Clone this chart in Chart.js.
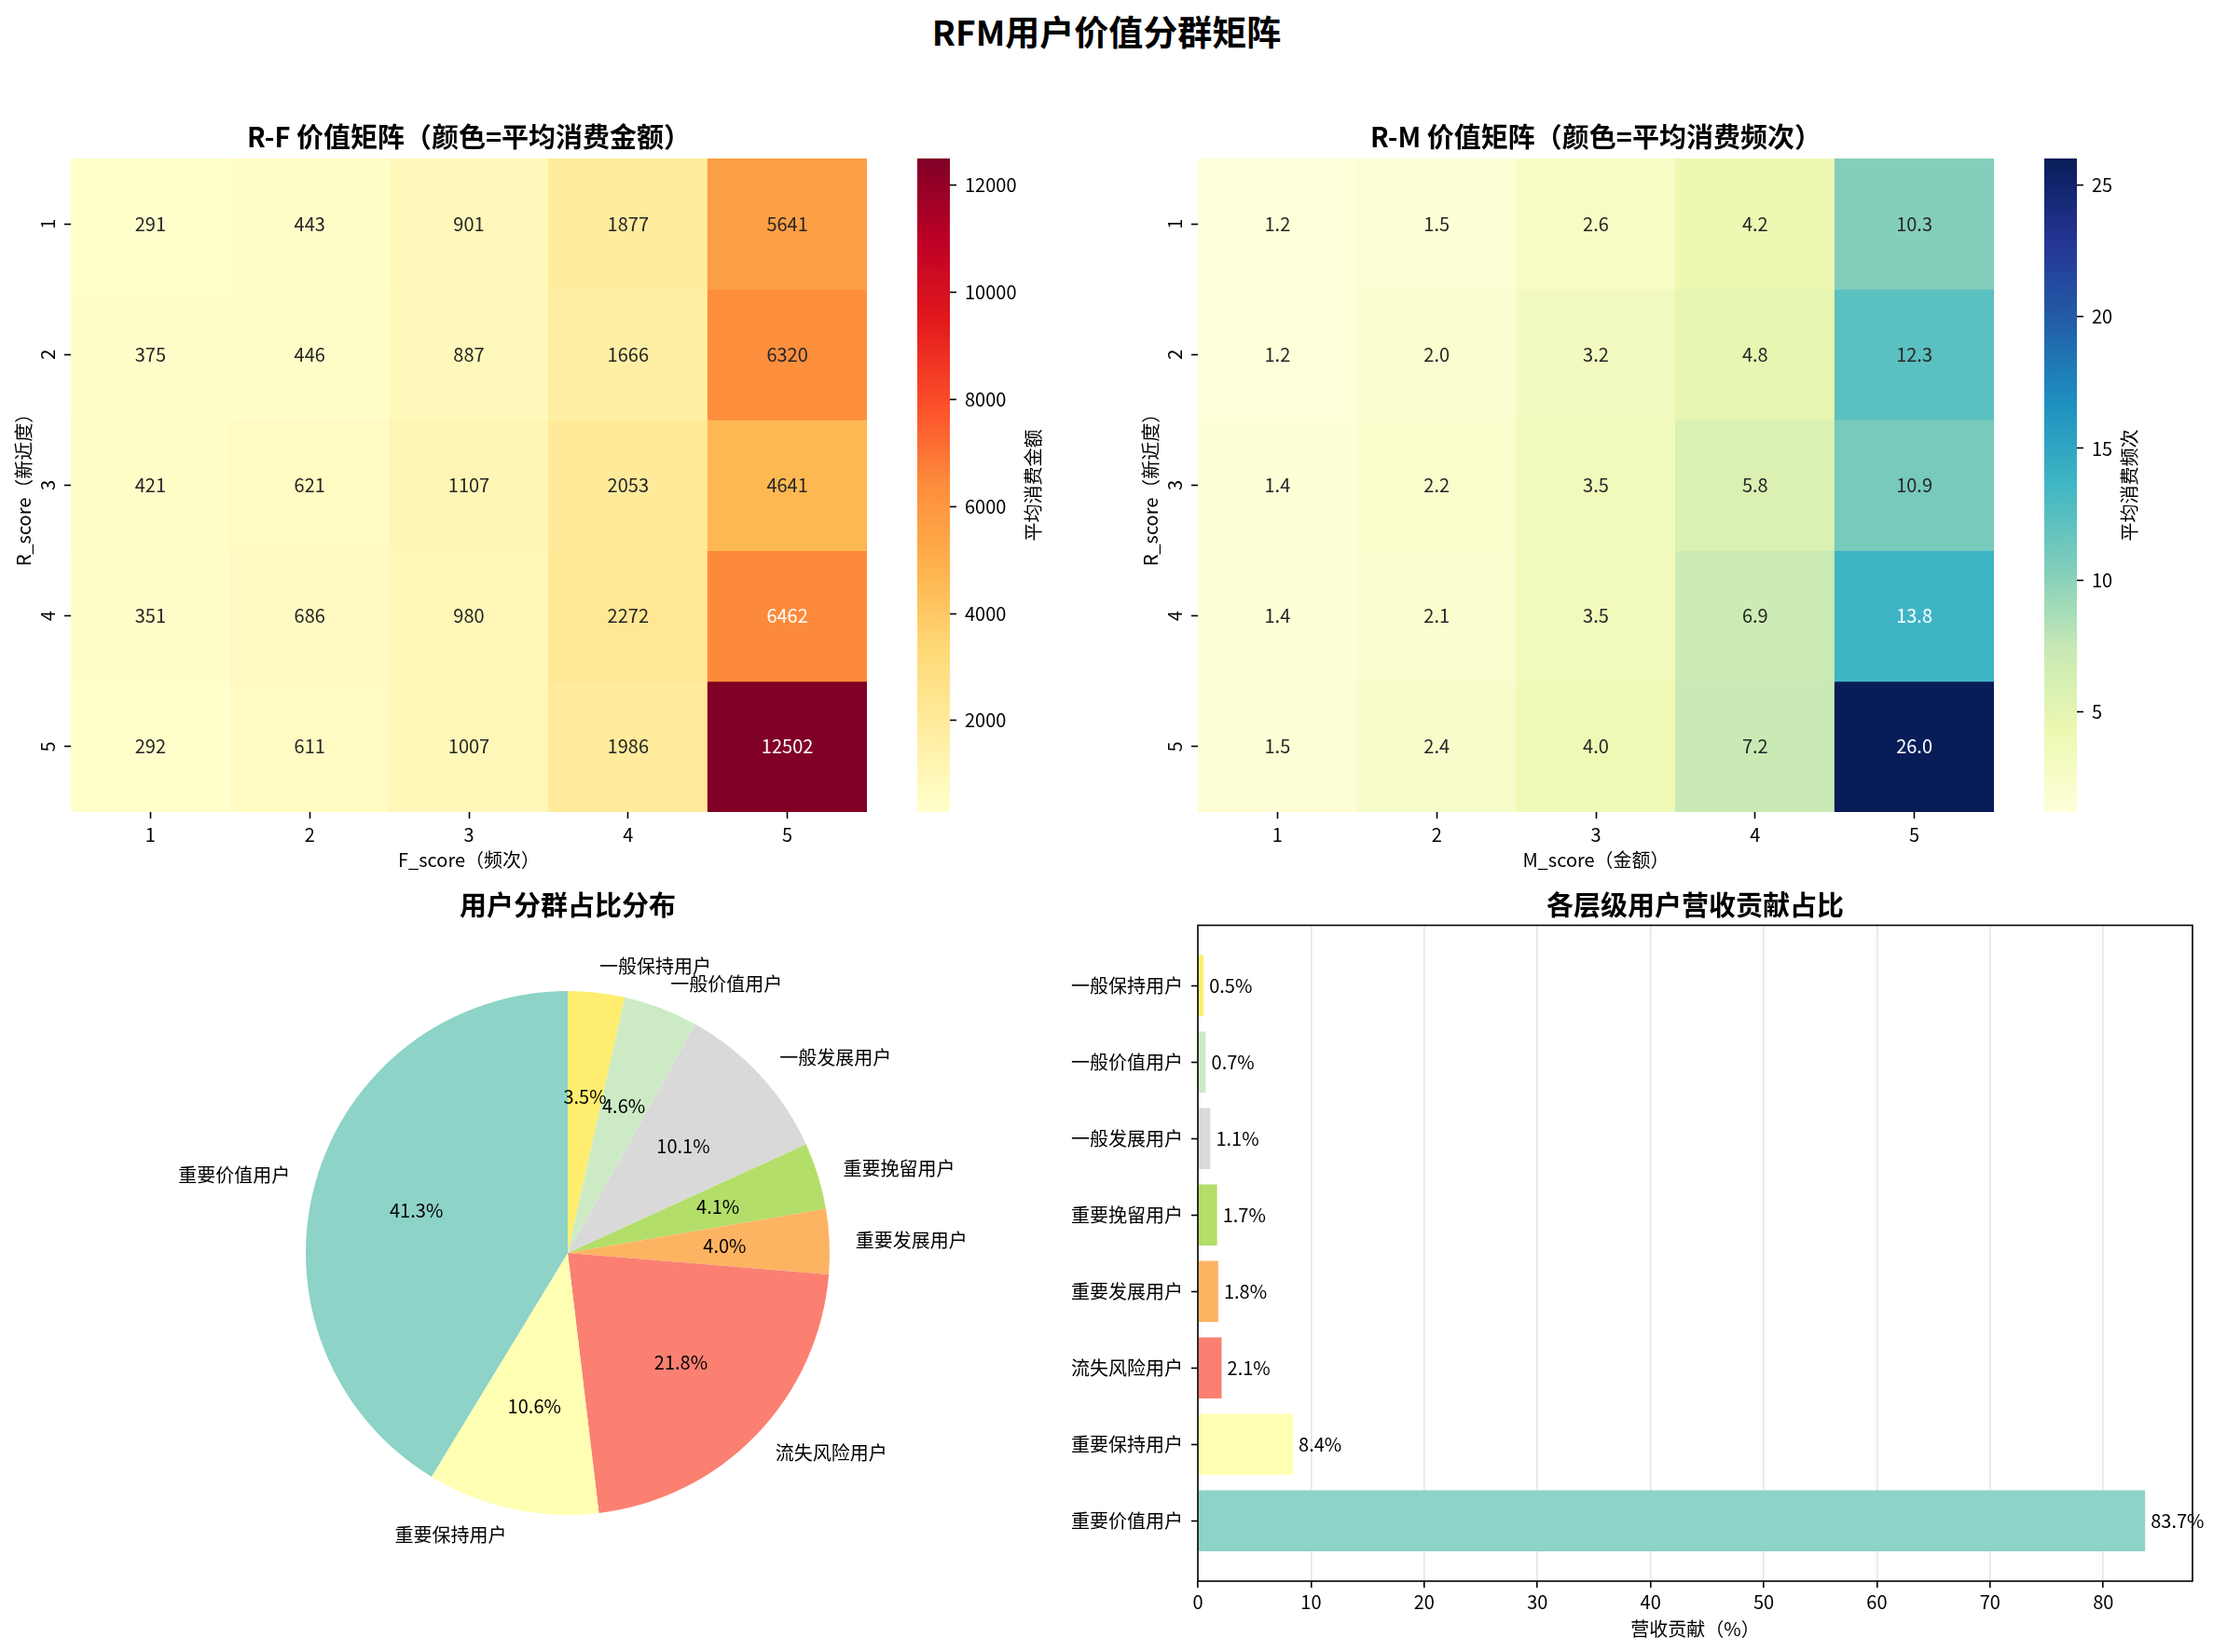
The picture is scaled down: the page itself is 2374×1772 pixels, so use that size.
<!DOCTYPE html>
<html>
<head>
<meta charset="utf-8">
<script src="https://cdn.jsdelivr.net/npm/chart.js@4.4.0/dist/chart.umd.min.js"></script>
<style>
  html, body { margin: 0; padding: 0; background: #fff; }
  body { width: 2374px; height: 1772px; position: relative; overflow: hidden; font-family: "Noto Sans CJK SC", sans-serif; }
  canvas { position: absolute; }
  #suptitle { position: absolute; left: 0; top: 8px; width: 2374px; text-align: center; font-size: 37px; font-weight: bold; line-height: 50px; color: #000; }
</style>
</head>
<body>
<div id="suptitle">RFM用户价值分群矩阵</div>
<canvas id="rf" width="940" height="820" style="left:0;top:120px"></canvas>
<canvas id="rfBar" width="200" height="701" style="left:984px;top:170px"></canvas>
<canvas id="rm" width="940" height="820" style="left:1209px;top:120px"></canvas>
<canvas id="rmBar" width="180" height="701" style="left:2193px;top:170px"></canvas>
<canvas id="pie" width="950" height="832" style="left:150px;top:940px"></canvas>
<canvas id="bar" width="1244" height="832" style="left:1130px;top:940px"></canvas>
<script>
// --- data ---
const rScores = [1, 2, 3, 4, 5];
const fScores = [1, 2, 3, 4, 5];
const mScores = [1, 2, 3, 4, 5];

// rows = R_score 1..5, cols = F_score 1..5
const rfAvgMonetary = [
  [291, 443, 901, 1877, 5641],
  [375, 446, 887, 1666, 6320],
  [421, 621, 1107, 2053, 4641],
  [351, 686, 980, 2272, 6462],
  [292, 611, 1007, 1986, 12502]
];
// rows = R_score 1..5, cols = M_score 1..5
const rmAvgFrequency = [
  [1.2, 1.5, 2.6, 4.2, 10.3],
  [1.2, 2.0, 3.2, 4.8, 12.3],
  [1.4, 2.2, 3.5, 5.8, 10.9],
  [1.4, 2.1, 3.5, 6.9, 13.8],
  [1.5, 2.4, 4.0, 7.2, 26.0]
];
const rfBarTicks = [2000, 4000, 6000, 8000, 10000, 12000];
const rmBarTicks = [5, 10, 15, 20, 25];

const segments = ['重要价值用户', '重要保持用户', '流失风险用户', '重要发展用户', '重要挽留用户', '一般发展用户', '一般价值用户', '一般保持用户'];
const userShare = [41.3, 10.6, 21.8, 4.0, 4.1, 10.1, 4.6, 3.5];
const revenueShare = [83.7, 8.4, 2.1, 1.8, 1.7, 1.1, 0.7, 0.5];
const revenueTicks = [0, 10, 20, 30, 40, 50, 60, 70, 80];

// --- styles ---
const segmentColors = ['#8dd3c7', '#ffffb3', '#fb8072', '#fdb462', '#b3de69', '#d9d9d9', '#ccebc5', '#ffed6f'];
const YL_OR_RD = ['#ffffcc', '#ffeda0', '#fed976', '#feb24c', '#fd8d3c', '#fc4e2a', '#e31a1c', '#bd0026', '#800026'];
const YL_GN_BU = ['#ffffd9', '#edf8b1', '#c7e9b4', '#7fcdbb', '#41b6c4', '#1d91c0', '#225ea8', '#253494', '#081d58'];
const FONT = '"Noto Sans CJK SC", "DejaVu Sans", sans-serif';

Chart.defaults.font.family = FONT;
Chart.defaults.font.size = 20;
Chart.defaults.color = '#000';

function hexToRgb(h) {
  const n = parseInt(h.slice(1), 16);
  return [(n >> 16) & 255, (n >> 8) & 255, n & 255];
}

function colormap(stops, t) {
  t = Math.min(1, Math.max(0, t)) * (stops.length - 1);
  const i = Math.min(Math.floor(t), stops.length - 2);
  const f = t - i;
  const a = hexToRgb(stops[i]), b = hexToRgb(stops[i + 1]);
  return a.map((c, k) => Math.round(c + (b[k] - c) * f));
}

// same rule seaborn uses to pick annotation colour
function textColor(rgb) {
  const lin = rgb.map(c => {
    c /= 255;
    return c <= 0.03928 ? c / 12.92 : Math.pow((c + 0.055) / 1.055, 2.4);
  });
  const lum = 0.2126 * lin[0] + 0.7152 * lin[1] + 0.0722 * lin[2];
  return lum > 0.408 ? '#262626' : '#fff';
}

function fixSize(scale, w, h) {
  if (w != null) scale.width = w;
  if (h != null) scale.height = h;
  scale.paddingTop = scale.paddingBottom = scale.paddingLeft = scale.paddingRight = 0;
}

const tickGrid = { display: true, drawOnChartArea: false, offset: false, tickLength: 7, tickColor: '#000', tickWidth: 1.6 };

function heatmap(id, matrix, cols, stops, title, xTitle, fmt) {
  const flat = matrix.flat();
  const vmin = Math.min(...flat), vmax = Math.max(...flat);
  const rgb = v => colormap(stops, (v - vmin) / (vmax - vmin));

  const datasets = rScores.map((r, i) => ({
    data: matrix[i].map(() => [r - 0.5, r + 0.5]),
    backgroundColor: matrix[i].map(v => `rgb(${rgb(v).join(',')})`),
    grouped: false,
    barPercentage: 1,
    categoryPercentage: 1,
    borderWidth: 0
  }));

  const cellLabels = {
    id: 'cellLabels',
    afterDatasetsDraw(chart) {
      const ctx = chart.ctx;
      ctx.save();
      ctx.font = '20px ' + FONT;
      ctx.textAlign = 'center';
      ctx.textBaseline = 'middle';
      chart.data.datasets.forEach((ds, i) => {
        chart.getDatasetMeta(i).data.forEach((bar, j) => {
          const v = matrix[i][j];
          ctx.fillStyle = textColor(rgb(v));
          ctx.fillText(fmt(v), bar.x, (bar.y + bar.base) / 2);
        });
      });
      ctx.restore();
    }
  };

  new Chart(id, {
    type: 'bar',
    data: { labels: cols.map(String), datasets },
    options: {
      responsive: false,
      animation: false,
      devicePixelRatio: 1,
      layout: { padding: { right: 10 } },
      plugins: {
        legend: { display: false },
        tooltip: { enabled: false },
        title: {
          display: true, text: title, fullSize: false, color: '#000',
          font: { size: 29, weight: 'bold' }, padding: { top: 9.6, bottom: 5.6 }
        }
      },
      scales: {
        x: {
          type: 'category',
          offset: true,
          grid: tickGrid,
          border: { display: false },
          ticks: { padding: 5, maxRotation: 0, autoSkip: false },
          title: { display: true, text: xTitle, padding: { top: 0, bottom: 6 } },
          afterFit: s => fixSize(s, null, 69)
        },
        y: {
          type: 'linear',
          min: 0.5, max: 5.5,
          reverse: true,
          offset: false,
          afterBuildTicks: a => { a.ticks = rScores.map(v => ({ value: v })); },
          grid: tickGrid,
          border: { display: false },
          ticks: { minRotation: 90, maxRotation: 90, crossAlign: 'center', padding: 12 },
          title: { display: true, text: 'R_score（新近度）', padding: { top: 13.5, bottom: 0 } },
          afterFit: s => fixSize(s, 76, null)
        }
      }
    },
    plugins: [cellLabels]
  });
  return { vmin, vmax };
}

function colorbar(id, stops, range, ticks, label, axisWidth) {
  const cbLabel = {
    id: 'cbLabel',
    afterDraw(chart) {
      const { ctx, chartArea } = chart;
      ctx.save();
      ctx.font = '20px ' + FONT;
      const maxW = Math.max(...ticks.map(t => ctx.measureText(String(t)).width));
      const x = chartArea.right + 7 + 9 + maxW + 8 + 10;
      ctx.translate(x, (chartArea.top + chartArea.bottom) / 2);
      ctx.rotate(-Math.PI / 2);
      ctx.fillStyle = '#000';
      ctx.textAlign = 'center';
      ctx.textBaseline = 'middle';
      ctx.fillText(label, 0, 0);
      ctx.restore();
    }
  };

  new Chart(id, {
    type: 'bar',
    data: {
      labels: [''],
      datasets: [{
        data: [[range.vmin, range.vmax]],
        backgroundColor: c => {
          const area = c.chart.chartArea;
          if (!area) return stops[0];
          const g = c.chart.ctx.createLinearGradient(0, area.bottom, 0, area.top);
          stops.forEach((s, i) => g.addColorStop(i / (stops.length - 1), s));
          return g;
        },
        borderWidth: 0,
        barPercentage: 1,
        categoryPercentage: 1
      }]
    },
    options: {
      responsive: false,
      animation: false,
      devicePixelRatio: 1,
      plugins: { legend: { display: false }, tooltip: { enabled: false } },
      scales: {
        x: { display: false },
        y: {
          position: 'right',
          min: range.vmin, max: range.vmax,
          afterBuildTicks: a => { a.ticks = ticks.map(v => ({ value: v })); },
          grid: tickGrid,
          border: { display: false },
          ticks: { padding: 9, callback: v => String(v) },
          afterFit: s => fixSize(s, axisWidth, null)
        }
      }
    },
    plugins: [cbLabel]
  });
}

// --- heatmaps ---
const rfRange = heatmap('rf', rfAvgMonetary, fScores, YL_OR_RD,
  'R-F 价值矩阵（颜色=平均消费金额）', 'F_score（频次）', v => String(v));
colorbar('rfBar', YL_OR_RD, rfRange, rfBarTicks, '平均消费金额', 165);

const rmRange = heatmap('rm', rmAvgFrequency, mScores, YL_GN_BU,
  'R-M 价值矩阵（颜色=平均消费频次）', 'M_score（金额）', v => v.toFixed(1));
colorbar('rmBar', YL_GN_BU, rmRange, rmBarTicks, '平均消费频次', 145);

// --- pie ---
// matplotlib goes counter-clockwise from the top, Chart.js clockwise: feed it reversed
const pieText = {
  id: 'pieText',
  afterDatasetsDraw(chart) {
    const ctx = chart.ctx;
    const ds = chart.data.datasets[0];
    ctx.save();
    ctx.font = '20px ' + FONT;
    ctx.fillStyle = '#000';
    ctx.textBaseline = 'middle';
    chart.getDatasetMeta(0).data.forEach((arc, i) => {
      const mid = (arc.startAngle + arc.endAngle) / 2;
      const r = arc.outerRadius;
      const c = Math.cos(mid), s = Math.sin(mid);
      ctx.textAlign = c > 0 ? 'left' : 'right';
      ctx.fillText(chart.data.labels[i], arc.x + c * r * 1.1, arc.y + s * r * 1.1);
      ctx.textAlign = 'center';
      ctx.fillText(ds.data[i].toFixed(1) + '%', arc.x + c * r * 0.6, arc.y + s * r * 0.6);
    });
    ctx.restore();
  }
};

new Chart('pie', {
  type: 'pie',
  data: {
    labels: segments.slice().reverse(),
    datasets: [{
      data: userShare.slice().reverse(),
      backgroundColor: segmentColors.slice().reverse(),
      borderWidth: 0,
      hoverOffset: 0
    }]
  },
  options: {
    responsive: false,
    animation: false,
    devicePixelRatio: 1,
    layout: { padding: { left: 178, right: 210, top: 0, bottom: 147 } },
    plugins: {
      legend: { display: false },
      tooltip: { enabled: false },
      title: {
        display: true, text: '用户分群占比分布', fullSize: false, color: '#000',
        font: { size: 29, weight: 'bold' }, padding: { top: 13.6, bottom: 74.6 }
      }
    }
  },
  plugins: [pieText]
});

// --- revenue bars ---
const frame = {
  id: 'frame',
  afterDatasetsDraw(chart) {
    const { ctx, chartArea: a } = chart;
    ctx.save();
    ctx.strokeStyle = '#000';
    ctx.lineWidth = 1.6;
    ctx.strokeRect(a.left, a.top, a.right - a.left, a.bottom - a.top);
    ctx.restore();
  }
};

const barValues = {
  id: 'barValues',
  afterDraw(chart) {
    const { ctx, scales: { x } } = chart;
    ctx.save();
    ctx.font = '20px ' + FONT;
    ctx.fillStyle = '#000';
    ctx.textAlign = 'left';
    ctx.textBaseline = 'middle';
    chart.getDatasetMeta(0).data.forEach((bar, i) => {
      ctx.fillText(revenueShare[i].toFixed(1) + '%', x.getPixelForValue(revenueShare[i] + 0.5), bar.y);
    });
    ctx.restore();
  }
};

new Chart('bar', {
  type: 'bar',
  data: {
    datasets: [{
      data: revenueShare.map((v, i) => ({ x: v, y: i })),
      backgroundColor: segmentColors,
      borderWidth: 0,
      barPercentage: 0.8,
      categoryPercentage: 1
    }]
  },
  options: {
    indexAxis: 'y',
    responsive: false,
    animation: false,
    devicePixelRatio: 1,
    layout: { padding: { right: 22 } },
    plugins: {
      legend: { display: false },
      tooltip: { enabled: false },
      title: {
        display: true, text: '各层级用户营收贡献占比', fullSize: false, color: '#000',
        font: { size: 29, weight: 'bold' }, padding: { top: 13.6, bottom: 4.1 }
      }
    },
    scales: {
      x: {
        type: 'linear',
        min: 0,
        max: Math.max(...revenueShare) * 1.05,
        afterBuildTicks: a => { a.ticks = revenueTicks.map(v => ({ value: v })); },
        grid: { color: '#e6e6e6', lineWidth: 1.6, tickColor: '#000', tickLength: 7, tickWidth: 1.6 },
        border: { display: false },
        ticks: { padding: 3, callback: v => String(v) },
        title: { display: true, text: '营收贡献（%）', padding: { top: 0, bottom: 12.4 } },
        afterFit: s => fixSize(s, null, 76)
      },
      y: {
        type: 'linear',
        offset: false,
        min: -0.79,
        max: segments.length - 1 + 0.79,
        afterBuildTicks: a => { a.ticks = segments.map((_, i) => ({ value: i })); },
        grid: tickGrid,
        border: { display: false },
        ticks: { padding: 9, callback: v => segments[v] },
        afterFit: s => fixSize(s, 155, null)
      }
    }
  },
  plugins: [frame, barValues]
});
</script>
</body>
</html>
